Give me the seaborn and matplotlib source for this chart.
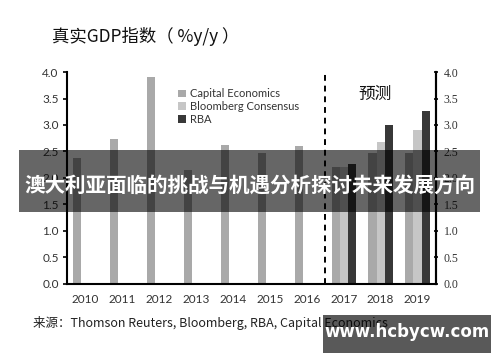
import numpy as np
import pandas as pd
import matplotlib
matplotlib.use("Agg")
import matplotlib.pyplot as plt
import seaborn as sns
from matplotlib.patches import Rectangle

years = ["2010", "2011", "2012", "2013", "2014", "2015", "2016", "2017", "2018", "2019"]
sources = ["Capital Economics", "Bloomberg Consensus", "RBA"]
capital_economics = [2.38, 2.73, 3.9, 2.15, 2.62, 2.47, 2.6, 2.2, 2.48, 2.48]
bloomberg = [np.nan] * 7 + [2.2, 2.68, 2.9]
rba = [np.nan] * 7 + [2.27, 3.0, 3.26]
yticks = [0.0, 0.5, 1.0, 1.5, 2.0, 2.5, 3.0, 3.5, 4.0]
colors = ["#a9a9a9", "#c6c6c6", "#383838"]

rows = []
for name, vals in zip(sources, [capital_economics, bloomberg, rba]):
    for y, v in zip(years, vals):
        if not np.isnan(v):
            rows.append({"year": y, "source": name, "value": v})
df = pd.DataFrame(rows)

sns.set_theme(style="white")
plt.rcParams["font.family"] = ["Noto Sans CJK SC", "DejaVu Sans"]

fig = plt.figure(figsize=(5.0, 3.62), dpi=100)
ax = fig.add_axes([0.134, 0.2155, 0.738, 0.5856])
sns.barplot(data=df, x="year", y="value", hue="source", order=years,
            hue_order=sources, palette=colors, width=0.66, linewidth=0,
            ax=ax, errorbar=None, saturation=1)

ax.set_xlim(-0.5, 9.5)
ax.set_ylim(0, 4.0)
ax.set_xlabel("")
ax.set_ylabel("")
ax.set_yticks(yticks)
ax.set_yticklabels([f"{t:.1f}" for t in yticks], fontsize=8.5, color="#333333",
                   family=["Lato", "DejaVu Sans"])
ax.set_xticks(range(len(years)))
ax.set_xticklabels(years, fontsize=8.5, color="#333333", family=["Lato", "DejaVu Sans"])
ax.set_xticks(np.arange(-0.5, 10, 1), minor=True)
ax.tick_params(axis="x", which="major", length=0, pad=7)
ax.tick_params(axis="x", which="minor", length=4, width=1.2, direction="out", color="black")
ax.tick_params(axis="y", which="major", length=3, width=1.2, direction="out", color="black", pad=3, left=True)

for s in ["left", "bottom", "right"]:
    ax.spines[s].set_visible(True)
    ax.spines[s].set_color("black")
    ax.spines[s].set_linewidth(1.5)
ax.spines["top"].set_visible(False)

ax2 = ax.twinx()
ax2.set_ylim(0, 4.0)
ax2.set_yticks(yticks)
ax2.set_yticklabels([f"{t:.1f}" for t in yticks], fontsize=8.5, color="#333333",
                    family=["Liberation Serif"])
ax2.tick_params(axis="y", length=3, width=1.2, direction="inout", color="black", pad=4, right=True)
for s in ax2.spines.values():
    s.set_visible(False)
ax2.spines["right"].set_visible(True)
ax2.spines["right"].set_linewidth(1.5)
ax2.spines["right"].set_color("black")

ax.axvline(6.5, color="black", linestyle=(0, (3, 2.5)), linewidth=1.4, ymin=0, ymax=1)
ax.text(7.84, 3.57, "预测", fontsize=12, ha="center", va="center", color="#111111")

leg = ax.legend(loc="upper left", bbox_to_anchor=(0.275, 0.97), frameon=False,
                handlelength=0.7, handleheight=0.7, handletextpad=0.3,
                labelspacing=0.15, prop={"family": ["Lato", "DejaVu Sans"], "size": 8})
for t in leg.get_texts():
    t.set_color("#333333")

fig.text(0.104, 0.90, "真实GDP指数（ %y/y ）", fontsize=12.5, ha="left", va="center", color="#111111")
fig.text(0.066, 0.108, "来源：Thomson Reuters, Bloomberg, RBA, Capital Economics",
         fontsize=9, ha="left", va="center", color="#222222")

# overlay banner
fig.patches.append(Rectangle((0.038, 0.4144), 0.922, 0.1712, transform=fig.transFigure,
                             facecolor="black", alpha=0.6, edgecolor="none", zorder=5))
fig.text(0.499, 0.486, "澳大利亚面临的挑战与机遇分析探讨未来发展方向", fontsize=14.8,
         fontweight="bold", ha="center", va="center", color="white", zorder=6)

# watermark
fig.patches.append(Rectangle((0.646, 0.025), 0.336, 0.105, transform=fig.transFigure,
                             facecolor="black", alpha=0.65, edgecolor="none", zorder=5))
fig.text(0.814, 0.083, "www.hcbycw.com", fontsize=12, fontweight="bold",
         family=["DejaVu Sans"], ha="center", va="center", color="white", zorder=6)

fig.savefig("out.png", dpi=100)
